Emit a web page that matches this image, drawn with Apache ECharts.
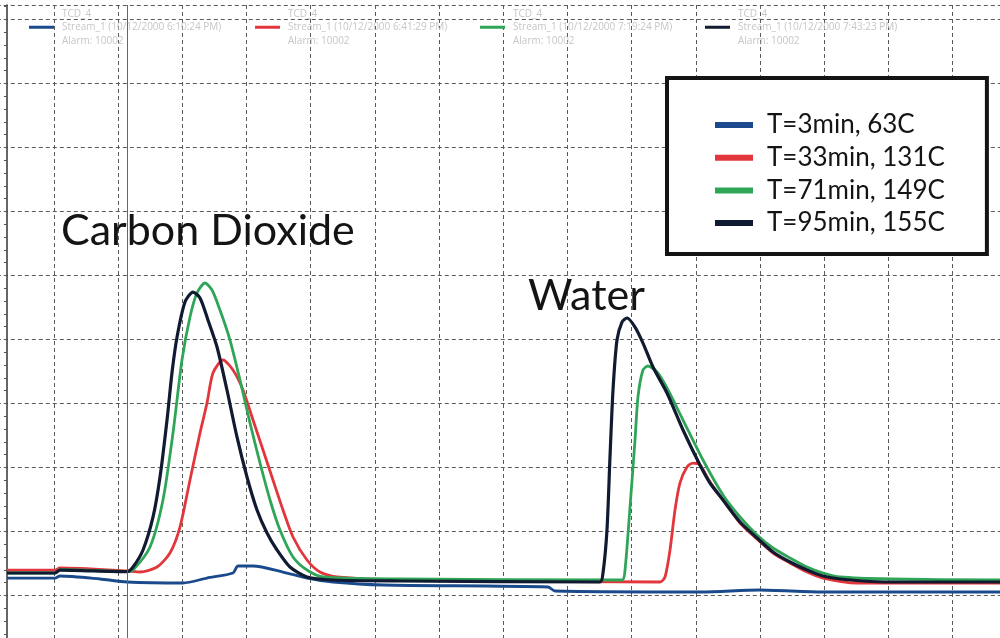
<!DOCTYPE html>
<html><head><meta charset="utf-8">
<script src="https://cdn.jsdelivr.net/npm/echarts@6/dist/echarts.min.js"></script>
<style>html,body{margin:0;padding:0;background:#fff}#c{width:1000px;height:638px}</style>
</head><body><div id="c"></div>
<script>
// ---- labels ----
const seriesNames = ['T=3min, 63C', 'T=33min, 131C', 'T=71min, 149C', 'T=95min, 155C'];
const seriesColors = ['#1b4a8c', '#e2363c', '#2fa558', '#101a30'];
const detectorLabel = 'TCD_4';
const streamLabels = [
  'Stream_1 (10/12/2000 6:10:24 PM)',
  'Stream_1 (10/12/2000 6:41:29 PM)',
  'Stream_1 (10/12/2000 7:19:24 PM)',
  'Stream_1 (10/12/2000 7:43:23 PM)'
];
const alarmLabel = 'Alarm: 10002';
const peakLabels = ['Carbon Dioxide', 'Water'];
const injectionTime = 2.137;

// ---- data: [time, signal] ----
const run3min = [
  [0.268,1.273],[1.016,1.273],[1.093,1.305],[1.717,1.258],[2.137,1.211],[3.010,1.195],
  [3.384,1.273],[3.789,1.352],[3.867,1.461],[4.101,1.461],[4.568,1.367],[4.942,1.273],
  [5.347,1.211],[6.126,1.164],[8.697,1.133],[8.806,1.070],[11.097,1.055],[11.985,1.086],
  [12.982,1.055],[15.740,1.055]
];
const run33min = [
  [0.268,1.398],[1.016,1.398],[1.093,1.430],[2.137,1.383],[2.340,1.367],[2.605,1.445],
  [2.807,1.664],[2.963,2.070],[3.119,2.805],[3.275,3.539],[3.384,4.008],[3.477,4.477],
  [3.633,4.680],[3.789,4.523],[3.945,4.211],[4.101,3.742],[4.257,3.273],[4.412,2.805],
  [4.568,2.336],[4.724,1.914],[4.942,1.555],[5.144,1.367],[5.409,1.289],[6.391,1.242],
  [10.442,1.211],[10.520,1.289],[10.598,1.711],[10.676,2.336],[10.754,2.758],[10.863,3.008],
  [10.956,3.070],[11.065,3.039],[11.221,2.773],[11.424,2.492],[11.689,2.133],[11.954,1.883],
  [12.203,1.664],[12.468,1.508],[12.733,1.367],[12.982,1.273],[13.512,1.195],[15.740,1.195]
];
const run71min = [
  [0.268,1.352],[1.016,1.352],[1.093,1.406],[2.137,1.375],[2.231,1.398],[2.496,1.758],
  [2.698,2.492],[2.854,3.539],[2.994,4.680],[3.119,5.352],[3.228,5.727],[3.353,5.883],
  [3.462,5.773],[3.586,5.461],[3.742,4.992],[3.898,4.367],[4.054,3.695],[4.210,3.070],
  [4.366,2.492],[4.521,2.023],[4.724,1.602],[4.942,1.398],[5.191,1.289],[6.391,1.258],
  [9.850,1.242],[9.897,1.398],[9.975,2.383],[10.053,3.430],[10.099,4.102],[10.177,4.523],
  [10.255,4.586],[10.396,4.492],[10.551,4.242],[10.801,3.742],[11.112,3.117],[11.424,2.570],
  [11.689,2.227],[11.954,1.945],[12.203,1.742],[12.468,1.586],[12.733,1.445],[12.982,1.352],
  [13.247,1.289],[14.026,1.258],[15.740,1.242]
];
const run95min = [
  [0.268,1.352],[1.016,1.352],[1.093,1.398],[2.137,1.372],[2.231,1.445],[2.387,1.711],
  [2.543,2.227],[2.652,2.852],[2.761,3.742],[2.838,4.477],[2.917,5.039],[3.041,5.586],
  [3.166,5.742],[3.275,5.648],[3.399,5.305],[3.540,4.883],[3.695,4.211],[3.851,3.477],
  [4.007,2.852],[4.163,2.336],[4.319,1.977],[4.475,1.711],[4.677,1.445],[4.942,1.289],
  [5.347,1.242],[6.391,1.227],[9.507,1.211],[9.554,1.352],[9.616,2.023],[9.663,3.164],
  [9.710,4.211],[9.772,4.992],[9.850,5.273],[9.928,5.336],[10.053,5.195],[10.177,4.945],
  [10.333,4.570],[10.551,4.164],[10.801,3.586],[11.065,3.039],[11.221,2.758],[11.424,2.492],
  [11.689,2.148],[11.954,1.898],[12.203,1.680],[12.468,1.523],[12.733,1.398],[12.982,1.305],
  [13.247,1.258],[13.605,1.227],[14.026,1.211],[15.740,1.211]
];
const runs = [run3min, run33min, run71min, run95min];

const chart = echarts.init(document.getElementById('c'), null, {renderer: 'canvas'});
const gridDash = {color: '#5a5a5a', width: 1, type: [4, 3]};
const topLegendLeft = [29, 255, 480, 705];

const topLegends = seriesNames.map((n, i) => ({
  data: [n], left: topLegendLeft[i], top: 7, padding: 0, selectedMode: false,
  icon: 'rect', itemWidth: 25, itemHeight: 3,
  formatter: () => detectorLabel + '\n' + streamLabels[i] + '\n' + alarmLabel,
  textStyle: {fontSize: 10, lineHeight: 13.5, color: '#c6c6c6', fontFamily: 'Open Sans', padding: [0, 0, 0, 3]}
}));

chart.setOption({
  animation: false,
  backgroundColor: '#fff',
  grid: {left: -10.18, right: -16.7, top: 5, bottom: -21.5, containLabel: false, outerBoundsMode: 'none'},
  title: [
    {text: peakLabels[0], left: 61, top: 210, padding: 0,
     textStyle: {fontSize: 43, fontWeight: 'normal', fontFamily: 'Lato', color: '#141414'}},
    {text: peakLabels[1], left: 528, top: 275, padding: 0,
     textStyle: {fontSize: 43, fontWeight: 'normal', fontFamily: 'Lato', color: '#141414'}}
  ],
  legend: topLegends.concat([{
    data: seriesNames, orient: 'vertical', left: 667, top: 78, selectedMode: false,
    padding: [34, 42, 18, 48], itemGap: 6.7, icon: 'rect', itemWidth: 38, itemHeight: 6,
    backgroundColor: '#fff', borderColor: '#141414', borderWidth: 4,
    textStyle: {fontSize: 26, lineHeight: 26, fontFamily: 'Lato', color: '#141414', padding: [0, 0, 0, 9]}
  }]),
  xAxis: {
    type: 'value', position: 'top', min: 0, max: 16, interval: 1,
    axisLine: {show: true, lineStyle: {color: '#333', width: 1.5}},
    axisTick: {show: false}, axisLabel: {show: false},
    splitLine: {show: true, lineStyle: gridDash}
  },
  yAxis: {
    type: 'value', position: 'left', offset: -17.18, min: 0, max: 10.227, interval: 1,
    axisLine: {show: true, lineStyle: {color: '#333', width: 1.5}},
    axisTick: {show: true, inside: false, length: 3, lineStyle: {color: '#555'}},
    minorTick: {show: true, splitNumber: 5, length: 3, lineStyle: {color: '#555'}},
    axisLabel: {show: false},
    splitLine: {show: true, lineStyle: gridDash}
  },
  series: runs.map((d, i) => ({
    name: seriesNames[i], type: 'line', data: d, color: seriesColors[i],
    showSymbol: false, symbol: 'none', smooth: 0.25,
    lineStyle: {width: i === 3 ? 3.2 : 2.8, color: seriesColors[i], join: 'round'},
    markLine: i === 0 ? {silent: true, symbol: 'none', label: {show: false},
      lineStyle: {color: '#666', width: 1, type: 'solid'}, data: [{xAxis: injectionTime}]} : undefined
  }))
});
</script></body></html>
